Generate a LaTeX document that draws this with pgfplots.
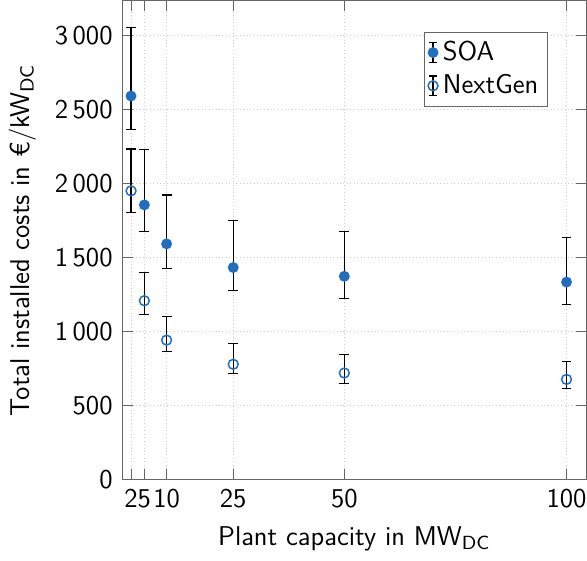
\documentclass[border=0pt]{standalone}
\usepackage{pgfplots}
\pgfplotsset{compat=1.18}
\usepackage{pgfplotstable}
\definecolor{myblue}{RGB}{31,110,192}
\pgfplotstableread{
x y ep em
2 2590 465 227
5 1855 372 180
10 1592 330 168
25 1432 316 154
50 1373 300 150
100 1334 302 150
}\soa
\pgfplotstableread{
x y ep em
2 1950 283 148
5 1208 190 95
10 942 160 78
25 779 138 62
50 720 125 70
100 677 120 62
}\nextgen
\newcommand{\myfont}{\sffamily\fontsize{11}{13}\selectfont}
\begin{document}
\myfont
\begin{tikzpicture}
\begin{axis}[
  scale only axis,
  width=188pt, height=194pt,
  xmin=0, xmax=104.5,
  ymin=0, ymax=3235,
  xtick={2,5,10,25,50,100},
  ytick={0,500,1000,1500,2000,2500,3000},
  grid=major,
  major grid style={densely dotted, gray!40},
  /pgf/number format/assume math mode=true,
  /pgf/number format/1000 sep={\,},
  tick label style={font=\myfont},
  xticklabel style={inner xsep=0pt},
  label style={font=\myfont},
  axis line style={gray!80!black},
  tick style={gray!80!black},
  xlabel={Plant capacity in MW\textsubscript{DC}},
  ylabel={Total installed costs in \texteuro/kW\textsubscript{DC}},
  legend style={at={(0.916,0.935)}, anchor=north east, font=\myfont, draw=gray!80!black,
    row sep=0pt, inner xsep=1.5pt, inner ysep=1.5pt, nodes={inner sep=2pt}},
  legend cell align=left,
  legend image code/.code={
    \draw[black, line width=0.5pt] (0cm,-4pt) -- (0cm,4pt)
      (-1.7pt,-4pt) -- (1.7pt,-4pt) (-1.7pt,4pt) -- (1.7pt,4pt);
    \draw[#1] plot coordinates {(0cm,0cm)};
  },
]
\addplot[only marks, mark=*, mark size=2pt, color=myblue,
    error bars/.cd, y dir=both, y explicit,
    error bar style={black, line width=0.5pt},
    error mark options={rotate=90, black, mark size=2pt, line width=0.5pt}]
  table[x=x, y=y, y error plus=ep, y error minus=em] {\soa};
\addlegendentry{SOA}
\addplot[only marks, mark=o, mark size=2pt, color=myblue, mark options={line width=0.6pt},
    error bars/.cd, y dir=both, y explicit,
    error bar style={black, line width=0.5pt},
    error mark options={rotate=90, black, mark size=2pt, line width=0.5pt}]
  table[x=x, y=y, y error plus=ep, y error minus=em] {\nextgen};
\addlegendentry{NextGen}
\end{axis}
\end{tikzpicture}
\end{document}
